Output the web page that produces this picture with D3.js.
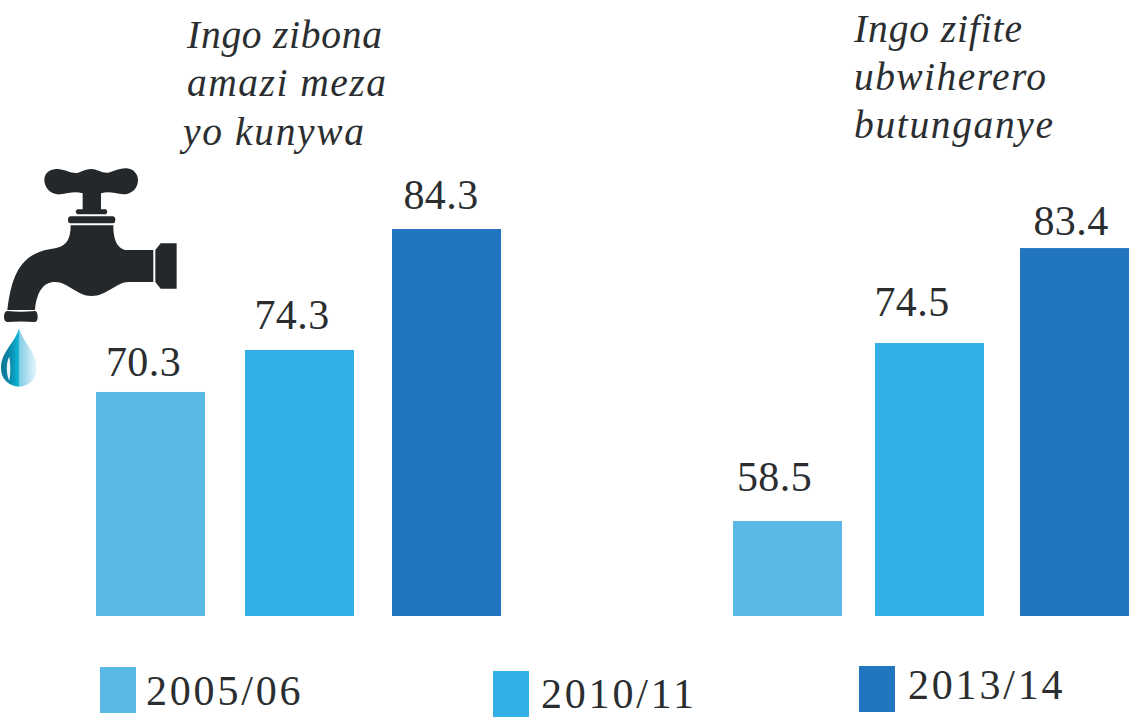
<!DOCTYPE html>
<html><head><meta charset="utf-8">
<script src="https://cdn.jsdelivr.net/npm/d3@7"></script>
<style>html,body{margin:0;padding:0;background:#fff}svg{display:block}
text{fill:#2b2e30}</style></head><body><svg id="c" width="1129" height="718"></svg>
<script>
const periods = ["2005/06","2010/11","2013/14"];
const colors = ["#5ab9e6","#32aee6","#2176bf"];
const waterLabels = ["70.3","74.3","84.3"];
const sanitationLabels = ["58.5","74.5","83.4"];
// The printed bars are not exactly proportional to their printed labels,
// so bar lengths are read from the picture separately, on one shared scale.
const waterBars = [69.86,73.58,84.31];
const sanitationBars = [58.42,74.2,82.62];
const waterTitle = ["Ingo zibona","amazi meza","yo kunywa"];
const sanitationTitle = ["Ingo zifite","ubwiherero","butunganye"];

const svg = d3.select("#c");
const serif = "'Liberation Serif', serif";
const y = d3.scaleLinear().domain([50,84.31]).range([616,229]);
const xLeft = d3.scaleOrdinal().domain(periods).range([96,245,392]);
const xRight = d3.scaleOrdinal().domain(periods).range([733,875,1020]);
const barW = 109;

function panel(bars, labels, x, dx, dy){
  const g = svg.append("g");
  g.selectAll("rect").data(periods).join("rect")
    .attr("x",d=>x(d)).attr("width",barW)
    .attr("y",(d,i)=>y(bars[i])).attr("height",(d,i)=>y(50)-y(bars[i]))
    .attr("fill",(d,i)=>colors[i]);
  g.selectAll("text").data(periods).join("text")
    .attr("x",(d,i)=>x(d)+barW/2+dx[i]).attr("y",(d,i)=>y(bars[i])-dy[i])
    .attr("text-anchor","middle")
    .style("font",`42px ${serif}`).style("letter-spacing","0.4px")
    .text((d,i)=>labels[i]);
}
panel(waterBars,waterLabels,xLeft,[-7,-7.5,-5.5],[16,21,20]);
panel(sanitationBars,sanitationLabels,xRight,[-13,-17.5,-3.5],[30,27,13]);

function title(lines,xs,ys,widths){
  svg.append("g").selectAll("text").data(lines).join("text")
    .attr("x",(d,i)=>xs[i]).attr("y",(d,i)=>ys[i])
    .attr("textLength",(d,i)=>widths[i]).attr("lengthAdjust","spacing")
    .style("font",`italic 39.5px ${serif}`)
    .text(d=>d);
}
title(waterTitle,[187,187,183],[48,96,145],[195,199,181]);
title(sanitationTitle,[854,854,854],[42,90,138],[168,192,199]);

const legendX=[100,493,859], legendY=[667,671,666], legendTextY=[705,708,699], legendTextX=[146,541,908];
const lg=svg.append("g");
lg.selectAll("rect").data(periods).join("rect")
  .attr("x",(d,i)=>legendX[i]).attr("y",(d,i)=>legendY[i]).attr("width",36).attr("height",46)
  .attr("fill",(d,i)=>colors[i]);
lg.selectAll("text").data(periods).join("text")
  .attr("x",(d,i)=>legendTextX[i]).attr("y",(d,i)=>legendTextY[i])
  .style("font",`42px ${serif}`).style("letter-spacing","2.8px").text(d=>d);

// tap icon
const defs=svg.append("defs");
const gr=defs.append("linearGradient").attr("id","drop");
[[0,"#0c7391"],[0.28,"#0a8fb0"],[0.49,"#12b3d4"],[0.5,"#7ccbe4"],[1,"#eaf6fb"]].forEach(s=>
  gr.append("stop").attr("offset",s[0]).attr("stop-color",s[1]));
const tap=svg.append("g").attr("transform","translate(0,160) scale(0.3333)");
const ink="#24282a";
[
 "M133,60 C133,35 155,25 175,27 C200,30 215,42 235,38 C250,32 262,27 275,27 C290,27 305,40 325,38 C345,32 360,24 380,25 C402,26 415,45 414,62 C413,85 395,103 370,103 C345,100 325,92 303,100 L303,148 H318 Q326,155 318,163 H232 Q222,155 232,148 H248 L248,100 C225,92 205,100 180,103 C155,105 133,85 133,60 Z",
 "M212,196 H340 C340,225 345,262 375,270 H460 V366 H385 C350,366 320,408 275,408 C230,408 205,366 165,366 C130,366 110,395 105,450 H22 C32,370 50,300 120,275 C165,260 212,275 212,196 Z",
 "M466,270 L482,250 H530 V386 H482 L466,366 Z",
 "M212,169 H338 Q346,169 346,180 Q346,190 338,190 H212 Q204,190 204,180 Q204,169 212,169 Z",
 "M22,453 C50,456 75,456 105,453 Q113,455 113,470 Q113,484 105,486 C75,484 50,484 22,486 Q12,484 12,470 Q12,455 22,453 Z"
].forEach(d=>tap.append("path").attr("d",d).attr("fill",ink));
tap.append("path").attr("d","M57,505 C70,550 110,575 110,625 C110,660 85,680 57,680 C30,680 3,660 3,625 C3,575 45,550 57,505 Z").attr("fill","url(#drop)");
tap.append("path").attr("d","M28,590 C18,605 18,645 28,662 C32,640 32,612 28,590 Z").attr("fill","#eaf6fa");
</script></body></html>
